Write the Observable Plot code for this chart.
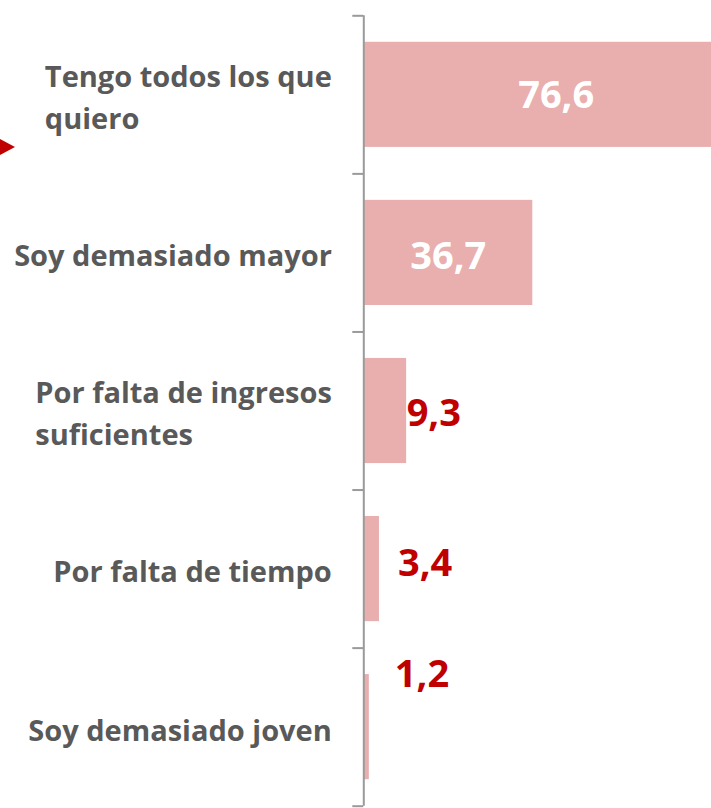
<!DOCTYPE html>
<html><head><meta charset="utf-8">
<script src="https://cdn.jsdelivr.net/npm/d3@7"></script>
<script src="https://cdn.jsdelivr.net/npm/@observablehq/plot@0.6"></script>
<style>
html,body{margin:0;padding:0;background:#fff;overflow:hidden;}
#wrap{position:relative;width:711px;height:808px;}
#wrap svg{display:block;}
#arrow{position:absolute;left:0;top:139px;width:0;height:0;border-top:8px solid transparent;border-bottom:8px solid transparent;border-left:15px solid #C00000;}
</style></head><body><div id="wrap"></div>
<script>
const categories = ["Tengo todos los que\nquiero", "Soy demasiado mayor", "Por falta de ingresos\nsuficientes", "Por falta de tiempo", "Soy demasiado joven"];
const values = [76.6, 36.7, 9.3, 3.4, 1.2];
const valueLabels = ["76,6", "36,7", "9,3", "3,4", "1,2"];
const insideLabel = [true, true, false, false, false];

const W = 711, H = 808, mL = 363.3, mT = 15.3, mB = 2.3, xMax = 75.5;
const k = (W - mL) / xMax;
const px = n => n / k;
const n = categories.length;
const step = (H - mT - mB) / n;
const pad = 0.335;
const data = categories.map((c, i) => ({cat: c, value: values[i], label: valueLabels[i], inside: insideLabel[i]}));
const labelDx = [16, 0, 0, 18.5, 25.5];
const labelDy = [0.7, 3.6, 3.1, -5, -52];
const font = "'Open Sans', sans-serif";
const axisColor = "#9a9a9a";
const catFontSize = 29;
const catGap = 32;

// measure text so multi-line labels are left-aligned as a block ending near the axis
const ctx = document.createElement("canvas").getContext("2d");
ctx.font = `700 ${catFontSize}px 'Open Sans'`;
const blockWidth = s => Math.max(...s.split("\n").map(l => ctx.measureText(l).width));

const valueMarks = data.map((d, i) => Plot.text([d], {
  x: e => (e.inside ? e.value / 2 : e.value) + px(labelDx[i]),
  y: "cat",
  text: "label",
  dy: labelDy[i],
  textAnchor: d.inside ? "middle" : "start",
  fill: d.inside ? "#ffffff" : "#C00000",
  fontSize: 38,
  fontWeight: 700,
  fontFamily: font
}));

const catMarks = data.map(d => {
  const multi = d.cat.includes("\n");
  return Plot.text([d], {
    x: () => 0, y: "cat", text: "cat",
    dx: multi ? -catGap - blockWidth(d.cat) : -catGap,
    textAnchor: multi ? "start" : "end",
    lineHeight: 1.44, fontSize: catFontSize, fontWeight: 700, fill: "#595959", fontFamily: font
  });
});

const chart = Plot.plot({
  width: W,
  height: H,
  marginLeft: mL,
  marginRight: 0,
  marginTop: mT,
  marginBottom: mB,
  style: {fontFamily: font, background: "#fff", overflow: "hidden"},
  x: {domain: [0, xMax], range: [mL, W], axis: null},
  y: {domain: categories, range: [mT, H - mB], paddingInner: pad, paddingOuter: pad / 2, round: false, axis: null},
  marks: [
    Plot.barX(data, {x: "value", y: "cat", fill: "#E9AEAE", clip: true}),
    Plot.ruleX([0], {stroke: axisColor, strokeWidth: 2}),
    Plot.ruleY(data, {y: "cat", dy: -step / 2, x1: () => px(-11), x2: () => 0, stroke: axisColor, strokeWidth: 2}),
    Plot.ruleY([data[n - 1]], {y: "cat", dy: step / 2, x1: () => px(-11), x2: () => 0, stroke: axisColor, strokeWidth: 2}),
    ...catMarks,
    ...valueMarks
  ]
});
const wrap = document.getElementById("wrap");
wrap.appendChild(chart);
const arrow = document.createElement("div");
arrow.id = "arrow";
wrap.appendChild(arrow);
</script>
</body></html>
